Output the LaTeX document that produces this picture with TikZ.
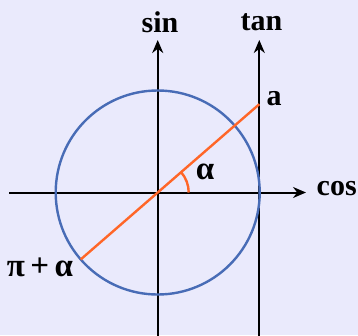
\documentclass[tikz,border=0pt]{standalone}
\usepackage{fontspec}
\setmainfont{Liberation Serif}
\usetikzlibrary{arrows.meta,calc}
\definecolor{bg}{RGB}{234,234,252}
\definecolor{circblue}{RGB}{72,108,182}
\definecolor{rayorange}{RGB}{255,102,40}
\tikzset{
  axis/.style={line width=2pt, draw=black, -{Stealth[length=13pt,width=11pt]}},
  lbl/.style={font=\fontsize{30}{30}\selectfont\bfseries, inner sep=0pt},
  glbl/.style={font=\fontsize{33}{33}\selectfont\bfseries, inner sep=0pt}
}
\begin{document}
\begin{tikzpicture}[x=1pt,y=-1pt]
\fill[bg] (0,0) rectangle (358,335);
\useasboundingbox (0,0) rectangle (358,335);
\coordinate (O) at (157.7,192.5);
\coordinate (xl) at (9,192.5);
\coordinate (xr) at (306,192.5);
\coordinate (sb) at (157.7,336);
\coordinate (st) at (157.7,40);
\coordinate (tb) at (259.3,336);
\coordinate (tt) at (259.3,40);
% axes
\draw[axis] (xl) -- (xr);
\draw[axis] (sb) -- (st);
\draw[axis] (tb) -- (tt);
% circle
\draw[circblue, line width=2.4pt] (O) circle (102);
% ray
\coordinate (P) at ($(O)+(139:102)$);
\coordinate (T) at (259.3,104.2);
\draw[rayorange, line width=2.4pt] (P) -- (T);
\draw[rayorange, line width=2.4pt] ($(O)+(31,0)$) arc[start angle=0, end angle=-41, radius=31];
% labels
\node[lbl] (sin) at (160,22) {sin};
\node[lbl] (tan) at (261.5,22) {tan};
\node[lbl] (a) at (274,99) {a};
\node[lbl, anchor=west] (cos) at (316.5,189) {cos};
\node[glbl] (alpha) at (205,172) {α};
\node[glbl] (pa) at (40,267) {π\,+\,α};
\end{tikzpicture}
\end{document}
